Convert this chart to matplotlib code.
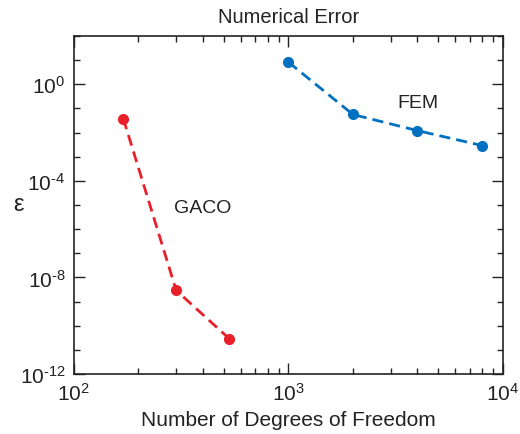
import numpy as np
import matplotlib
matplotlib.use('Agg')
import matplotlib.pyplot as plt
from matplotlib.ticker import FixedLocator, NullFormatter, LogLocator, FuncFormatter

plt.rcParams['font.family'] = ['Liberation Sans', 'DejaVu Sans']
plt.rcParams['mathtext.fontset'] = 'custom'
plt.rcParams['mathtext.rm'] = 'Liberation Sans'
plt.rcParams['mathtext.default'] = 'regular'

# data
gaco_dof = [170, 300, 530]
gaco_err = [0.038, 2.9e-9, 2.9e-11]
fem_dof = [1000, 2000, 4000, 8000]
fem_err = [8.3, 0.056, 0.012, 0.0029]

red = '#E8202A'
blue = '#0070C0'
ink = '#222222'


def pow10(v, pos):
    # short hyphen in the exponent, like the original
    e = str(int(round(np.log10(v)))).replace('-', '\u2010')
    return '$10^{' + e + '}$'


fig = plt.figure(figsize=(5.2, 4.35), dpi=100)
ax = fig.add_axes([0.142, 0.138, 0.825, 0.777])

ax.plot(gaco_dof, gaco_err, '--o', color=red, linewidth=2, markersize=7,
        dashes=(4, 2.2))
ax.plot(fem_dof, fem_err, '--o', color=blue, linewidth=2, markersize=7,
        dashes=(4, 2.2))

ax.set_xscale('log')
ax.set_yscale('log')
ax.set_xlim(1e2, 1e4)
ax.set_ylim(1e-12, 1e2)

ax.yaxis.set_major_locator(FixedLocator([1e-12, 1e-8, 1e-4, 1e0]))
ax.yaxis.set_minor_locator(FixedLocator([10.0 ** k for k in range(-12, 3)]))
ax.yaxis.set_minor_formatter(NullFormatter())
ax.yaxis.set_major_formatter(FuncFormatter(pow10))
ax.xaxis.set_major_formatter(FuncFormatter(pow10))
ax.xaxis.set_minor_locator(LogLocator(base=10, subs=np.arange(2, 10), numticks=20))
ax.xaxis.set_minor_formatter(NullFormatter())

ax.tick_params(which='both', direction='in', top=True, right=True, labelsize=15,
               width=1, color=ink, labelcolor=ink)
ax.tick_params(which='major', length=8, pad=6)
ax.tick_params(which='minor', length=4)
for s in ax.spines.values():
    s.set_linewidth(1.2)
    s.set_color(ink)

ax.text(400, 7.5e-6, 'GACO', fontsize=14, ha='center', va='center', color=ink)
ax.text(4000, 0.18, 'FEM', fontsize=14, ha='center', va='center', color=ink)

ax.set_title('Numerical Error', fontsize=14.5, pad=10, color=ink)
ax.set_xlabel('Number of Degrees of Freedom', fontsize=15, color=ink, labelpad=4)
ax.set_ylabel('ε', fontsize=17, color=ink, rotation=0, ha='center', va='center')
ax.yaxis.set_label_coords(-0.13, 0.503)

fig.savefig('out.png', dpi=100)
